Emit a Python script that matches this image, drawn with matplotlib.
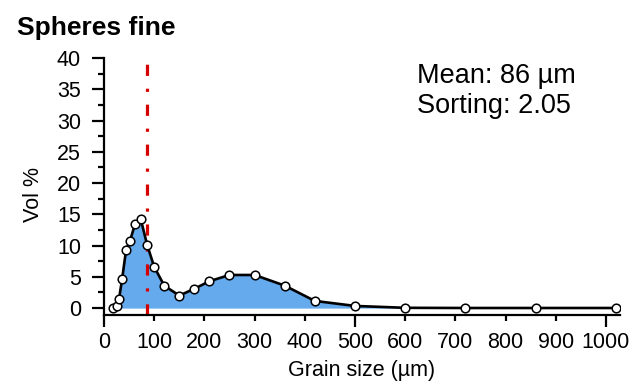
import matplotlib
matplotlib.use("Agg")
import matplotlib.pyplot as plt
from matplotlib.ticker import MultipleLocator, FuncFormatter

plt.rcParams['font.family'] = ['Liberation Sans', 'DejaVu Sans']

# grain size classes (um) and volume percent
size_um = [17, 25, 30, 36, 44, 52, 62, 73, 86, 100, 120, 150, 180, 210,
           250, 300, 360, 420, 500, 600, 720, 860, 1020]
vol_pct = [0.05, 0.4, 1.5, 4.6, 9.3, 10.8, 13.5, 14.3, 10.1, 6.6, 3.6, 2.0,
           3.1, 4.3, 5.3, 5.3, 3.6, 1.15, 0.35, 0.05, 0.02, 0.02, 0.02]
mean_um = 86
sorting = 2.05

fig = plt.figure(figsize=(6.42, 3.81), dpi=100)
ax = fig.add_axes([104 / 642, 1 - 315 / 381, 516 / 642, 257 / 381])

ax.fill_between(size_um, vol_pct, 0, color='#66aaee', lw=0, zorder=1)
ax.plot(size_um, vol_pct, color='black', lw=1.9, marker='o', ms=6.2,
        mfc='white', mec='black', mew=1.1, zorder=3)
ax.axvline(mean_um, color='#d60000', lw=2.3, dashes=(3.5, 4.0, 1.0, 4.0), zorder=2)

ax.set_xlim(0, 1028)
ax.set_ylim(-1.1, 40)

ax.spines['top'].set_visible(False)
ax.spines['right'].set_visible(False)
ax.spines['left'].set_linewidth(1.6)
ax.spines['bottom'].set_linewidth(1.6)

ax.yaxis.set_major_locator(MultipleLocator(5))
ax.yaxis.set_minor_locator(MultipleLocator(2.5))
ax.xaxis.set_major_locator(MultipleLocator(500))
ax.xaxis.set_minor_locator(MultipleLocator(100))
ax.xaxis.set_minor_formatter(FuncFormatter(lambda v, p: '%d' % v))

ax.tick_params(which='major', length=8.5, width=1.6, labelsize=15.5, pad=8)
ax.tick_params(which='minor', length=4, width=1.6, labelsize=15.5)
ax.tick_params(axis='x', which='major', pad=4.0)
ax.tick_params(axis='x', which='minor', length=4.3, pad=8.2)

ax.set_xlabel('Grain size (µm)', fontsize=15.5, labelpad=4.5)
ax.set_ylabel('Vol %', fontsize=15.5)
ax.yaxis.set_label_coords(-0.116, 0.467)

fig.text(417 / 642, 1 - 83 / 381, 'Mean: %d µm' % mean_um,
         fontsize=19.5, ha='left', va='baseline')
fig.text(417 / 642, 1 - 113 / 381, 'Sorting: %.2f' % sorting,
         fontsize=19.5, ha='left', va='baseline')

fig.text(17 / 642, 1 - 35 / 381, 'Spheres fine', fontsize=19,
         fontweight='bold', ha='left', va='baseline')

fig.savefig('out.png', dpi=100)
